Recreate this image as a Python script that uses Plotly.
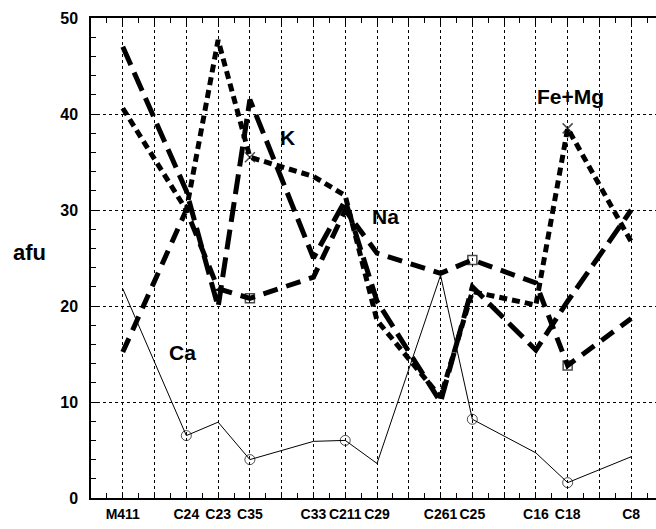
import plotly.graph_objects as go

# x slots (gridline positions); blank = unlabeled gridline
slots = ["", "M411", "", "C24", "C23", "C35", "", "C33", "C211", "C29", "",
         "C261", "C25", "", "C16", "C18", "", "C8"]
categories = ["M411", "C24", "C23", "C35", "C33", "C211", "C29", "C261", "C25", "C16", "C18", "C8"]

k_vals = [47.0, 32.0, 19.9, 41.5, 25.0, 31.0, 20.5, 10.0, 22.0, 15.4, 20.5, 30.0]
na_vals = [15.2, 30.0, 21.8, 20.8, 23.0, 30.0, 25.5, 23.4, 24.8, 22.4, 13.8, 18.7]
femg_vals = [40.6, 30.0, 47.7, 35.5, 33.5, 31.5, 18.5, 10.5, 21.5, 20.1, 38.5, 26.7]
ca_vals = [21.8, 6.5, 7.9, 4.0, 5.9, 6.0, 3.6, 23.2, 8.2, 4.7, 1.6, 4.3]

ca_markers = ["circle-open" if c in ("C24", "C35", "C211", "C25", "C18") else "line-ew" for c in categories]
ca_sizes = [10 if c in ("C24", "C35", "C211", "C25", "C18") else 0 for c in categories]
na_markers = ["square-open" if c in ("C35", "C25", "C18") else "line-ew" for c in categories]
na_sizes = [9 if c in ("C35", "C25", "C18") else 0 for c in categories]
femg_markers = ["x-thin-open" if c in ("C35", "C18") else "line-ew" for c in categories]
femg_sizes = [10 if c in ("C35", "C18") else 0 for c in categories]

x = [slots.index(c) for c in categories]

fig = go.Figure()
fig.add_trace(go.Scatter(x=x, y=ca_vals, mode="lines+markers", name="Ca",
                         line=dict(color="black", width=1),
                         marker=dict(symbol=ca_markers, size=ca_sizes, color="black",
                                     line=dict(color="black", width=1))))
fig.add_trace(go.Scatter(x=x, y=na_vals, mode="lines+markers", name="Na",
                         line=dict(color="black", width=5, dash="15px,9px"),
                         marker=dict(symbol=na_markers, size=na_sizes, color="black",
                                     line=dict(color="black", width=1.5))))
fig.add_trace(go.Scatter(x=x, y=k_vals, mode="lines", name="K",
                         line=dict(color="black", width=5, dash="20px,8px")))
fig.add_trace(go.Scatter(x=x, y=femg_vals, mode="lines+markers", name="Fe+Mg",
                         line=dict(color="black", width=5, dash="8px,5px"),
                         marker=dict(symbol=femg_markers, size=femg_sizes, color="black",
                                     line=dict(color="black", width=1.5))))

font_fam = "Liberation Sans, Arial, sans-serif"
labels = [("K", 6.17, 37.6), ("Na", 9.27, 29.3), ("Fe+Mg", 15.1, 41.8), ("Ca", 2.89, 15.2)]
for txt, lx, ly in labels:
    fig.add_annotation(x=lx, y=ly, text=txt, showarrow=False,
                       font=dict(family=font_fam, size=21, color="black", weight="bold"))
fig.add_annotation(xref="paper", yref="y", x=-0.108, y=25.6, text="afu", showarrow=False,
                   xanchor="center",
                   font=dict(family=font_fam, size=22, color="black", weight="bold"))

fig.update_layout(
    width=656, height=529,
    margin=dict(l=91, r=0, t=18, b=31),
    plot_bgcolor="white", paper_bgcolor="white",
    showlegend=False,
    font=dict(family=font_fam, size=14, color="black", weight="bold"),
)
fig.update_xaxes(
    range=[0, 17.78], tickmode="array", tickvals=list(range(len(slots))), ticktext=slots,
    tickangle=0,
    showgrid=True, gridcolor="black", griddash="dot", gridwidth=1,
    showline=True, linecolor="black", linewidth=1.5, mirror="ticks",
    ticks="inside", ticklen=6, tickcolor="black",
    minor=dict(dtick=0.5, tick0=0, ticks="inside", ticklen=5, tickcolor="black", showgrid=False),
    zeroline=False, tickfont=dict(size=14), ticklabelstandoff=2,
)
fig.update_yaxes(
    range=[0, 50], tickvals=[0, 10, 20, 30, 40, 50],
    showgrid=True, gridcolor="black", griddash="dot", gridwidth=1,
    showline=True, linecolor="black", linewidth=1.5, mirror=False,
    ticks="inside", ticklen=6, tickcolor="black",
    minor=dict(dtick=2, tick0=0, ticks="inside", ticklen=5, tickcolor="black", showgrid=False),
    zeroline=False, tickfont=dict(size=16), ticklabelstandoff=8,
)

fig.write_html("out.html")
